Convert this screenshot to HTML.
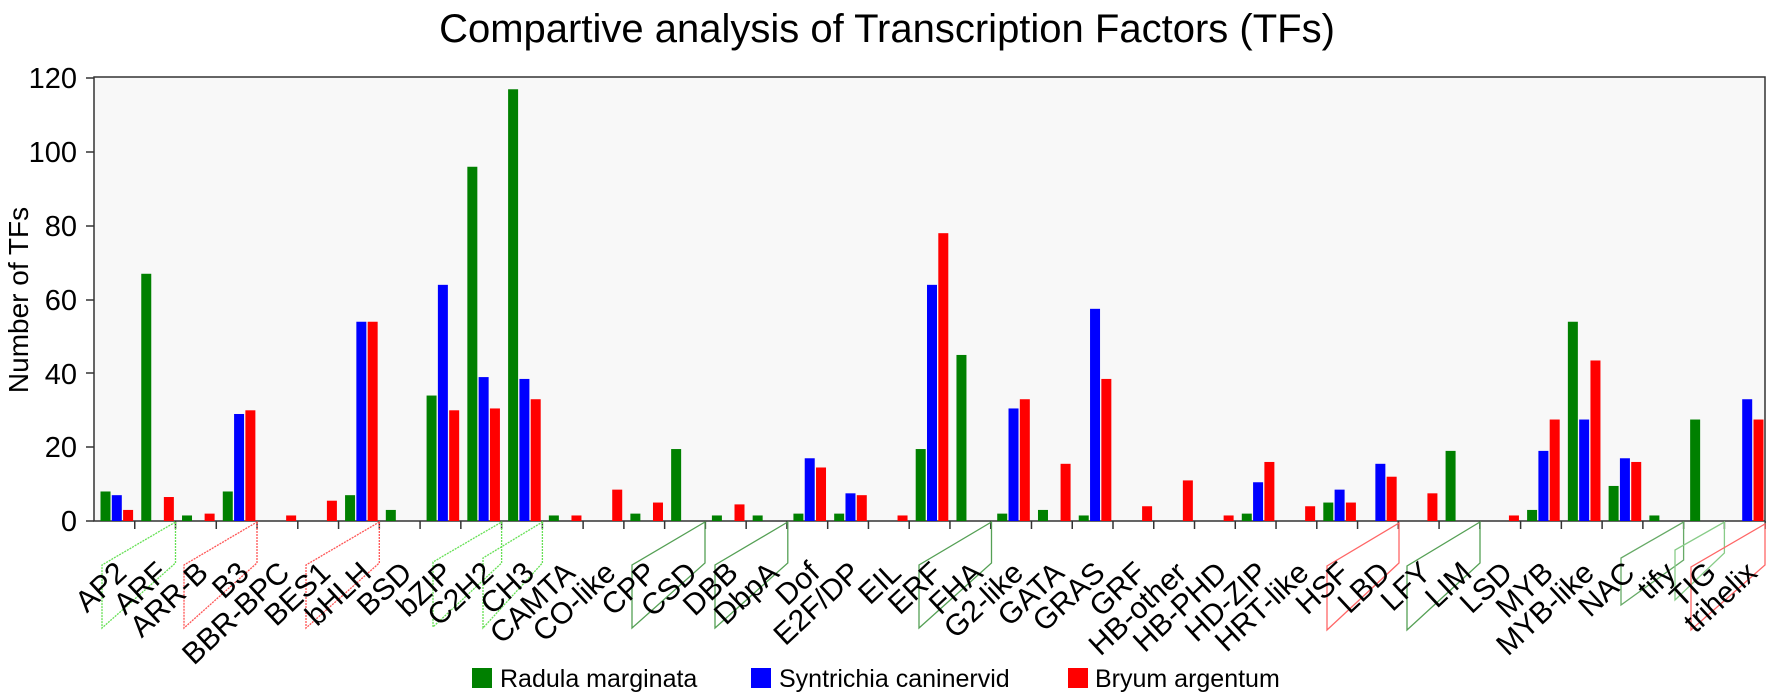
<!DOCTYPE html>
<html><head><meta charset="utf-8"><style>
html,body{margin:0;padding:0;background:#fff;}
svg{display:block;font-family:"Liberation Sans",Arial,sans-serif;}
</style></head><body>
<svg id="s" width="1772" height="698" viewBox="0 0 1772 698" xmlns="http://www.w3.org/2000/svg">
<text x="887" y="42" font-size="40" text-anchor="middle" fill="#000">Compartive analysis of Transcription Factors (TFs)</text>
<rect x="94" y="77" width="1671" height="444" fill="#f8f8f8" stroke="#333" stroke-width="1.5"/>
<g font-size="29" text-anchor="end" fill="#000">
<text x="77" y="531">0</text><text x="77" y="457">20</text><text x="77" y="384">40</text>
<text x="77" y="310">60</text><text x="77" y="236">80</text><text x="77" y="162">100</text><text x="77" y="88">120</text>
</g>
<g stroke="#333" stroke-width="1.5">
<line x1="86" y1="521" x2="94" y2="521"/><line x1="86" y1="447" x2="94" y2="447"/><line x1="86" y1="373" x2="94" y2="373"/>
<line x1="86" y1="300" x2="94" y2="300"/><line x1="86" y1="226" x2="94" y2="226"/><line x1="86" y1="152" x2="94" y2="152"/><line x1="86" y1="78" x2="94" y2="78"/>
</g>
<text transform="translate(28,300) rotate(-90)" font-size="28" text-anchor="middle">Number of TFs</text>
<g id="bars"></g>
<g id="ticks" stroke="#333" stroke-width="1.5"></g>
<g fill="none" stroke-width="1.3">
<polygon points="175.5,522 175.5,563 102,628 102,565" stroke="#66e055" stroke-dasharray="2,1"/>
<polygon points="257,522 257,563 184,628 184,565" stroke="#ff5555" stroke-dasharray="2,1"/>
<polygon points="379.3,522 379.3,563 306,628 306,565" stroke="#ff5555" stroke-dasharray="2,1"/>
<polygon points="501.6,522 501.6,563 433,627 433,562" stroke="#66e055" stroke-dasharray="2,1"/>
<polygon points="542.4,522 542.4,563 483,628 483,558" stroke="#66e055" stroke-dasharray="2,1"/>
<polygon points="705,522 705,563 632,628 632,565" stroke="#55a055"/>
<polygon points="787.8,522 787.8,563 715,628 715,565" stroke="#55a055"/>
<polygon points="991.5,522 991.5,563 919,628 919,565" stroke="#55a055"/>
<polygon points="1399,523 1399,563 1327,630 1327,566" stroke="#ff6666"/>
<polygon points="1480,522 1480,563 1407,630 1407,566" stroke="#55a055"/>
<polygon points="1683.6,522 1683.6,560 1621,605 1621,558" stroke="#66aa66"/>
<polygon points="1724.4,522 1724.4,553 1675,600 1675,550" stroke="#88cc88"/>
<polygon points="1765,524 1765,565 1691,630 1691,567" stroke="#ff6666"/>
</g>
<g font-size="30" text-anchor="end" fill="#000">
<text transform="translate(128.4,575) rotate(-43)">AP2</text>
<text transform="translate(169.1,575) rotate(-43)">ARF</text>
<text transform="translate(209.9,575) rotate(-43)">ARR-B</text>
<text transform="translate(250.7,575) rotate(-43)">B3</text>
<text transform="translate(291.4,575) rotate(-43)">BBR-BPC</text>
<text transform="translate(332.2,575) rotate(-43)">BES1</text>
<text transform="translate(373.0,575) rotate(-43)">bHLH</text>
<text transform="translate(413.7,575) rotate(-43)">BSD</text>
<text transform="translate(454.5,575) rotate(-43)">bZIP</text>
<text transform="translate(495.2,575) rotate(-43)">C2H2</text>
<text transform="translate(536.0,575) rotate(-43)">CH3</text>
<text transform="translate(576.8,575) rotate(-43)">CAMTA</text>
<text transform="translate(617.5,575) rotate(-43)">CO-like</text>
<text transform="translate(658.3,575) rotate(-43)">CPP</text>
<text transform="translate(699.0,575) rotate(-43)">CSD</text>
<text transform="translate(739.8,575) rotate(-43)">DBB</text>
<text transform="translate(780.6,575) rotate(-43)">DbpA</text>
<text transform="translate(821.3,575) rotate(-43)">Dof</text>
<text transform="translate(862.1,575) rotate(-43)">E2F/DP</text>
<text transform="translate(902.8,575) rotate(-43)">EIL</text>
<text transform="translate(943.6,575) rotate(-43)">ERF</text>
<text transform="translate(984.4,575) rotate(-43)">FHA</text>
<text transform="translate(1025.1,575) rotate(-43)">G2-like</text>
<text transform="translate(1065.9,575) rotate(-43)">GATA</text>
<text transform="translate(1106.6,575) rotate(-43)">GRAS</text>
<text transform="translate(1147.4,575) rotate(-43)">GRF</text>
<text transform="translate(1188.2,575) rotate(-43)">HB-other</text>
<text transform="translate(1228.9,575) rotate(-43)">HB-PHD</text>
<text transform="translate(1269.7,575) rotate(-43)">HD-ZIP</text>
<text transform="translate(1310.4,575) rotate(-43)">HRT-like</text>
<text transform="translate(1351.2,575) rotate(-43)">HSF</text>
<text transform="translate(1392.0,575) rotate(-43)">LBD</text>
<text transform="translate(1432.7,575) rotate(-43)">LFY</text>
<text transform="translate(1473.5,575) rotate(-43)">LIM</text>
<text transform="translate(1514.2,575) rotate(-43)">LSD</text>
<text transform="translate(1555.0,575) rotate(-43)">MYB</text>
<text transform="translate(1595.8,575) rotate(-43)">MYB-like</text>
<text transform="translate(1636.5,575) rotate(-43)">NAC</text>
<text transform="translate(1677.3,575) rotate(-43)">tify</text>
<text transform="translate(1718.0,575) rotate(-43)">TIG</text>
<text transform="translate(1758.8,575) rotate(-43)">trihelix</text>
</g>
<g font-size="25" fill="#000">
<rect x="472" y="668" width="20" height="20" fill="#008000"/>
<text x="500" y="687">Radula marginata</text>
<rect x="751" y="668" width="20" height="20" fill="#0000ff"/>
<text x="779" y="687">Syntrichia caninervid</text>
<rect x="1068" y="668" width="20" height="20" fill="#ff0000"/>
<text x="1095" y="687">Bryum argentum</text>
</g>
</svg>
<script>
var d=[[8,7,3],[67,0,6.5],[1.5,0,2],[8,29,30],[0,0,1.5],[0,0,5.5],[7,54,54],[3,0,0],[34,64,30],[96,39,30.5],
[117,38.5,33],[1.5,0,1.5],[0,0,8.5],[2,0,5],[19.5,0,0],[1.5,0,4.5],[1.5,0,0],[2,17,14.5],[2,7.5,7],[0,0,1.5],
[19.5,64,78],[45,0,0],[2,30.5,33],[3,0,15.5],[1.5,57.5,38.5],[0,0,4],[0,0,11],[0,0,1.5],[2,10.5,16],[0,0,4],
[5,8.5,5],[0,15.5,12],[0,0,7.5],[19,0,0],[0,0,1.5],[3,19,27.5],[54,27.5,43.5],[9.5,17,16],[1.5,0,0],[27.5,0,0],[0,33,27.5]];
var c=["#008000","#0000ff","#ff0000"],ns="http://www.w3.org/2000/svg",b=document.getElementById("bars"),t=document.getElementById("ticks");
for(var i=0;i<41;i++){for(var s=0;s<3;s++){var v=d[i][s];if(!v)continue;var r=document.createElementNS(ns,"rect");
var h=v*3.69;r.setAttribute("x",94+i*40.76+6.5+s*11.3);r.setAttribute("y",521-h);r.setAttribute("width",10);r.setAttribute("height",h);
r.setAttribute("fill",c[s]);b.appendChild(r);}
var l=document.createElementNS(ns,"line"),x=94+(i+1)*40.76;l.setAttribute("x1",x);l.setAttribute("x2",x);l.setAttribute("y1",521);l.setAttribute("y2",529);t.appendChild(l);}
</script>
</body></html>
